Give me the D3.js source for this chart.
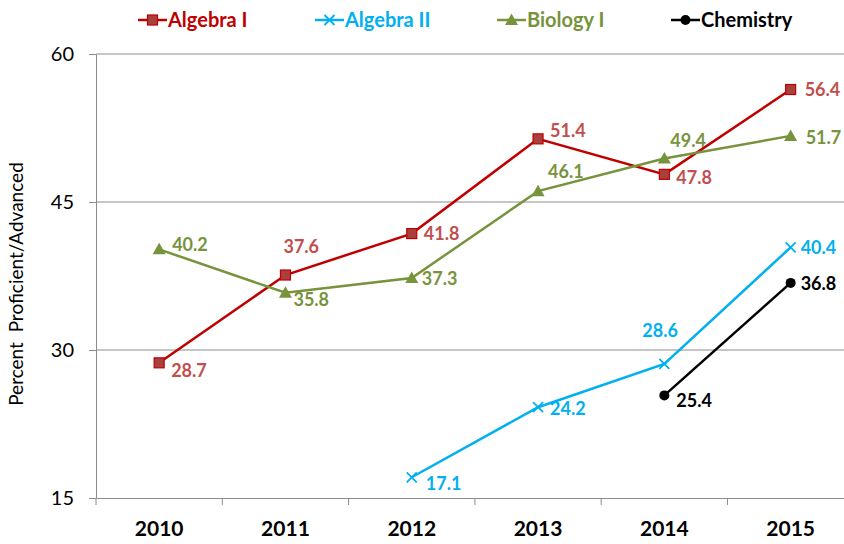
<!DOCTYPE html>
<html>
<head>
<meta charset="utf-8">
<script src="https://cdn.jsdelivr.net/npm/d3@7"></script>
<style>
  body { margin: 0; background: #fff; }
  svg { display: block; font-family: Lato, "Open Sans", sans-serif; }
</style>
</head>
<body>
<div id="chart"></div>
<script>
// data
const years = ["2010", "2011", "2012", "2013", "2014", "2015"];
const algebra1 = [28.7, 37.6, 41.8, 51.4, 47.8, 56.4];
const algebra2 = [null, null, 17.1, 24.2, 28.6, 40.4];
const biology1 = [40.2, 35.8, 37.3, 46.1, 49.4, 51.7];
const chemistry = [null, null, null, null, 25.4, 36.8];
const yTicks = [15, 30, 45, 60];

// label offsets (dx, dy) per point, for placement only
const series = [
    { name: "Algebra I", values: algebra1, line: "#c00000", label: "#c0504d", marker: "square",
      offs: [[12, 14], [-2, -22], [12, 6], [12, -2], [12, 10], [14, 6]] },
    { name: "Algebra II", values: algebra2, line: "#00b0f0", label: "#00b0f0", marker: "cross",
      offs: [null, null, [14, 13], [12, 8], [-22, -27], [10, 7]] },
    { name: "Biology I", values: biology1, line: "#77933c", label: "#77933c", marker: "triangle",
      offs: [[13, 2], [8, 13], [10, 7], [10, -13], [6, -12], [15, 8]] },
    { name: "Chemistry", values: chemistry, line: "#000000", label: "#000000", marker: "circle",
      offs: [null, null, null, null, [12, 12], [10, 7]] }
];

const width = 844, height = 544;
const margin = { top: 54, left: 96, bottom: 46 };
const plotW = 126.3 * years.length;

const svg = d3.select("#chart").append("svg")
    .attr("width", width)
    .attr("height", height);

const x = d3.scaleBand().domain(years).range([margin.left, margin.left + plotW]);
const y = d3.scaleLinear().domain([15, 60]).range([height - margin.bottom, margin.top]);

// gridlines
svg.append("g").selectAll("line")
    .data(yTicks.filter(t => t > 15))
    .join("line")
    .attr("x1", margin.left).attr("x2", margin.left + plotW)
    .attr("y1", d => y(d)).attr("y2", d => y(d))
    .attr("stroke", "#8c8c8c").attr("stroke-width", 1);

// y axis
const yAxis = svg.append("g")
    .attr("transform", `translate(${margin.left},0)`)
    .call(d3.axisLeft(y).tickValues(yTicks).tickSize(7).tickPadding(15).tickSizeOuter(0));
yAxis.select(".domain").attr("stroke", "#8c8c8c");
yAxis.selectAll(".tick line").attr("stroke", "#8c8c8c");
yAxis.selectAll(".tick text")
    .attr("font-size", 20).attr("fill", "#000")
    .attr("font-family", "Lato, sans-serif");

// x axis
const xAxis = svg.append("g")
    .attr("transform", `translate(0,${y(15)})`)
    .call(d3.axisBottom(x).tickSize(0).tickPadding(23));
xAxis.select(".domain").attr("stroke", "#8c8c8c");
xAxis.selectAll(".tick text")
    .attr("font-size", 21).attr("font-weight", "bold").attr("fill", "#000")
    .attr("font-family", "Lato, sans-serif");
// tick marks between the categories
svg.append("g").selectAll("line")
    .data(d3.range(years.length + 1))
    .join("line")
    .attr("x1", i => margin.left + i * x.step()).attr("x2", i => margin.left + i * x.step())
    .attr("y1", y(15)).attr("y2", y(15) + 7)
    .attr("stroke", "#8c8c8c");

// y title
svg.append("text")
    .attr("transform", `translate(23,${(y(15) + y(60)) / 2 + 8}) rotate(-90)`)
    .attr("text-anchor", "middle")
    .attr("font-size", 19)
    .attr("xml:space", "preserve")
    .text("Percent  Proficient/Advanced");

function drawMarker(g, type, color, cx, cy) {
    if (type === "square") {
        g.append("rect")
            .attr("x", cx - 5).attr("y", cy - 5).attr("width", 10).attr("height", 10)
            .attr("fill", "#a9403d").attr("stroke", "#c00000").attr("stroke-width", 1.2);
    } else if (type === "triangle") {
        g.append("path")
            .attr("d", `M${cx},${cy - 6.5}L${cx + 6.5},${cy + 5}L${cx - 6.5},${cy + 5}Z`)
            .attr("fill", color);
    } else if (type === "circle") {
        g.append("circle").attr("cx", cx).attr("cy", cy).attr("r", 5).attr("fill", color);
    } else {
        g.append("path")
            .attr("d", `M${cx - 5},${cy - 5}L${cx + 5},${cy + 5}M${cx - 5},${cy + 5}L${cx + 5},${cy - 5}`)
            .attr("stroke", color).attr("stroke-width", 1.8);
    }
}

const line = d3.line()
    .defined(d => d != null)
    .x((d, i) => x(years[i]) + x.bandwidth() / 2)
    .y(d => y(d));

series.forEach(s => {
    const g = svg.append("g");
    g.append("path")
        .attr("d", line(s.values))
        .attr("fill", "none")
        .attr("stroke", s.line)
        .attr("stroke-width", 2.5);
    s.values.forEach((v, i) => {
        if (v == null) return;
        const cx = x(years[i]) + x.bandwidth() / 2, cy = y(v);
        drawMarker(g, s.marker, s.line, cx, cy);
        g.append("text")
            .attr("x", cx + s.offs[i][0])
            .attr("y", cy + s.offs[i][1])
            .attr("font-size", 18)
            .attr("font-weight", "bold")
            .attr("fill", s.label)
            .text(v.toFixed(1));
    });
});

// legend
const legendX = [138, 315, 497, 671];
series.forEach((s, i) => {
    const g = svg.append("g").attr("transform", `translate(${legendX[i]},20)`);
    g.append("line").attr("x1", 0).attr("x2", 29).attr("y1", 0).attr("y2", 0)
        .attr("stroke", s.line).attr("stroke-width", 2.5);
    drawMarker(g, s.marker, s.line, 14.5, 0);
    g.append("text")
        .attr("x", 30).attr("y", 7)
        .attr("font-size", 20)
        .attr("font-weight", "bold")
        .attr("fill", s.line)
        .text(s.name);
});
</script>
</body>
</html>
